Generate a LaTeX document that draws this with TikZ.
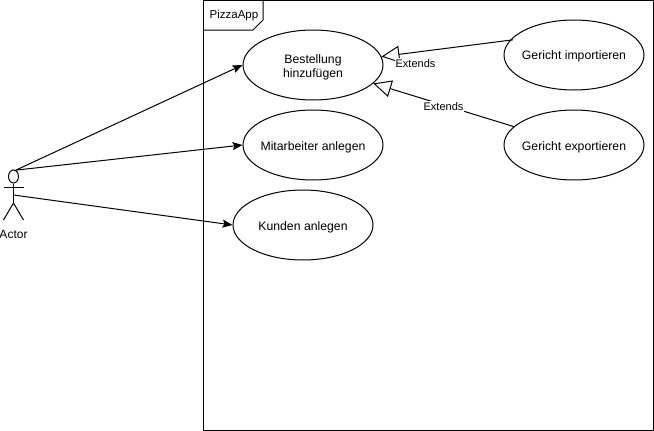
\documentclass[tikz,border=0pt]{standalone}
\usepackage{fontspec}
\setmainfont{Liberation Sans}
\usetikzlibrary{arrows.meta,shapes.geometric,calc}
\newcommand{\ucl}[1]{\smash{\raisebox{-5pt}{\makebox[0pt][c]{#1}}}}
\tikzset{
  usecase/.style={ellipse,draw=black,line width=1pt,fill=white,minimum width=140pt,minimum height=70pt,inner sep=0pt,align=center,font=\fontsize{12.25}{14}\selectfont},
  framebox/.style={rectangle,draw=black,line width=1pt,minimum width=450pt,minimum height=430pt,inner sep=0pt},
  assoc/.style={line width=1pt,-{Stealth[length=10pt,width=8pt,inset=2pt]}},
  extendsline/.style={line width=1pt,-{Triangle[open,fill=white,length=18pt,width=17pt,line width=1pt]}},
  extlabel/.style={fill=white,inner sep=1pt,font=\fontsize{11}{13}\selectfont},
  plainlabel/.style={inner sep=0pt,font=\fontsize{12}{14}\selectfont},
  stroke/.style={line width=1pt,draw=black}
}
\begin{document}
\begin{tikzpicture}[x=1pt,y=-1pt]
\useasboundingbox (0,0) rectangle (654,431);
\fill[white] (0,0) rectangle (654,431);
% frame
\node[framebox] (frame) at (428.5,215.5) {};
\draw[stroke] (frame.north west) ++(0,30) -- ++(50,0) -- ++(10,-10) -- ++(0,-20);
\node[plainlabel,font=\fontsize{11.5}{14}\selectfont] (title) at (234,16) {PizzaApp};
% use cases
\node[usecase] (b) at (313,65) {\ucl{Bestellung}\\\ucl{hinzufügen}};
\node[usecase] (m) at (313,145) {\ucl{Mitarbeiter anlegen}};
\node[usecase] (k) at (303,225) {\ucl{Kunden anlegen}};
\node[usecase] (gi) at (574,55) {\ucl{Gericht importieren}};
\node[usecase] (ge) at (574,145) {\ucl{Gericht exportieren}};
% actor
\node[ellipse,stroke,minimum width=10pt,minimum height=13pt,inner sep=0pt] (head) at (13.5,176.5) {};
\coordinate (hip) at (13.5,203);
\coordinate (armL) at (3.5,187);
\coordinate (armR) at (23.5,187);
\coordinate (footL) at (3.5,220);
\coordinate (footR) at (23.5,220);
\coordinate (waist) at (13.5,195);
\draw[stroke] (head.south) -- (hip);
\draw[stroke] (armL) -- (armR);
\draw[stroke] (footL) -- (hip) -- (footR);
\node[plainlabel] (actor) at (13.5,234) {Actor};
% associations
\draw[assoc] (head.70) -- (b.west);
\draw[assoc] (head.70) -- (m.west);
\draw[assoc] (waist) -- (k.west);
% extends
\draw[extendsline,shorten <=-3pt] (gi.167) -- (b.7);
\draw[extendsline] (ge.163) -- (b.-17);
\node[extlabel] (e1) at (415.5,63.5) {Extends};
\node[extlabel] (e2) at (443.5,106.5) {Extends};
\end{tikzpicture}
\end{document}
